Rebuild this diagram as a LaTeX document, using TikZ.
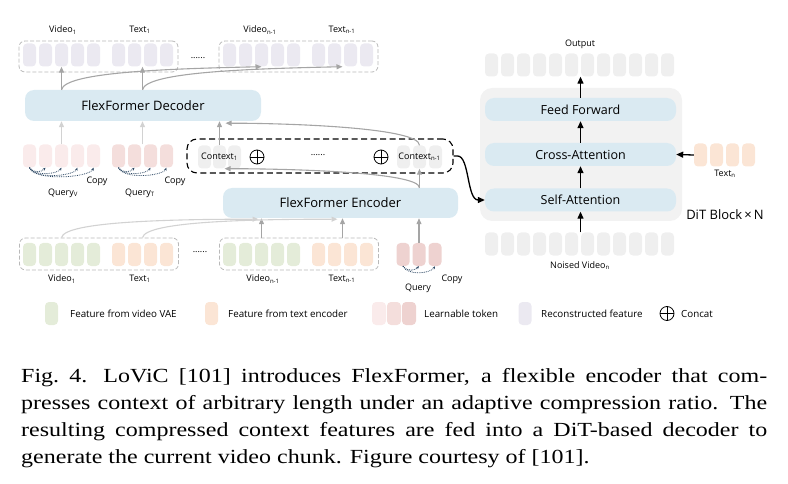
\documentclass[tikz,border=0pt]{standalone}
\usepackage{fontspec}
\setmainfont{Open Sans}
\newfontfamily\capfont[FakeStretch=1.2]{Liberation Serif}
\usetikzlibrary{arrows.meta,positioning,calc}

\definecolor{vaegreen}{RGB}{228,236,217}
\definecolor{txtpeach}{RGB}{251,229,213}
\definecolor{tokA}{RGB}{250,235,235}
\definecolor{tokB}{RGB}{244,222,220}
\definecolor{tokC}{RGB}{238,210,208}
\definecolor{recon}{RGB}{235,233,241}
\definecolor{blockblue}{RGB}{218,234,242}
\definecolor{cellgray}{RGB}{239,239,239}
\definecolor{ditgray}{RGB}{242,242,242}
\definecolor{boxgray}{RGB}{185,185,185}
\definecolor{arrgray}{RGB}{165,165,165}
\definecolor{arrlight}{RGB}{210,210,210}
\definecolor{copyblue}{RGB}{45,72,100}

\begin{document}
\begin{tikzpicture}[x=1pt, y=-1pt, font=\fontsize{9}{10}\selectfont,
    cell/.style={rectangle, rounded corners=4, minimum width=13, minimum height=23, inner sep=0},
    group/.style={draw=boxgray, dash pattern=on 4pt off 2pt, line width=0.8, rounded corners=6, minimum width=159, minimum height=31, inner sep=0},
    block/.style={fill=blockblue, rounded corners=9, inner sep=0},
    lbl/.style={inner sep=0},
    keylbl/.style={inner sep=0, anchor=west, font=\fontsize{9.8}{11}\selectfont},
    garrow/.style={draw=arrgray, line width=1.1, -{Triangle[width=5pt,length=6pt]}},
    larrow/.style={draw=arrlight, line width=1.1, -{Triangle[width=5pt,length=6pt]}},
    barrow/.style={draw=black, line width=1.3, -{Triangle[width=6pt,length=7pt]}},
    copyarrow/.style={draw=copyblue, densely dotted, line width=0.8, -{Stealth[length=3pt,width=2.5pt]}},
    concat/.style={circle, draw, line width=0.8, minimum size=14, inner sep=0,
      path picture={\draw[line width=0.8] (path picture bounding box.north) -- (path picture bounding box.south)
        (path picture bounding box.west) -- (path picture bounding box.east);}}]
  \useasboundingbox (0,0) rectangle (788,484);

  % reconstructed features (top)
  \node[group] (topA) at (98.5,56.5) {};
  \node[group] (topB) at (298.5,56.5) {};
  \foreach \i in {1,...,5} {
    \node[cell, fill=recon] (tva\i) at ({13.5+16*\i},55) {};
    \node[cell, fill=recon] (tvb\i) at ({213.5+16*\i},55) {};
  }
  \foreach \i in {1,...,4} {
    \node[cell, fill=recon] (tta\i) at ({102.5+16*\i},55) {};
    \node[cell, fill=recon] (ttb\i) at ({302.5+16*\i},55) {};
  }
  \node[lbl] (lva) at (63,30) {Video\textsubscript{1}};
  \node[lbl] (lta) at (140,30) {Text\textsubscript{1}};
  \node[lbl] (lvb) at (260,30) {Video\textsubscript{n-1}};
  \node[lbl] (ltb) at (342,30) {Text\textsubscript{n-1}};
  \node[lbl] (dotsT) at (198,58) {......};

  % decoder and queries
  \node[block, minimum width=236, minimum height=31, font=\fontsize{13}{15}\selectfont] (dec) at (143,105.5) {FlexFormer Decoder};
  \foreach \i in {1,...,5}
    \node[cell, fill=tokA] (qv\i) at ({13.5+16*\i},156) {};
  \foreach \i in {1,...,4}
    \node[cell, fill=tokB] (qt\i) at ({102.5+16*\i},156) {};
  \foreach \k/\d in {2/6,3/9,4/12,5/14}
    \draw[copyarrow] (qv1.south) .. controls +(5,\d) and +(-4,0.7*\d) .. (qv\k.south);
  \foreach \k/\d in {2/6,3/9,4/12}
    \draw[copyarrow] (qt1.south) .. controls +(5,\d) and +(-4,0.7*\d) .. (qt\k.south);
  \node[lbl] (lqv) at (63,193) {Query\textsubscript{V}};
  \node[lbl] (lqt) at (140,193) {Query\textsubscript{T}};
  \node[lbl] (cpv) at (97,181) {Copy};
  \node[lbl] (cpt) at (175,181) {Copy};

  % compressed context
  \node[draw, dash pattern=on 6pt off 3.5pt, line width=1.1, rounded corners=10, minimum width=266, minimum height=34, inner sep=0] (ctx) at (320,156) {};
  \foreach \i in {1,2,3} {
    \node[cell, fill=cellgray] (cc\i) at ({189.5+15*\i},157) {};
    \node[cell, fill=cellgray] (cn\i) at ({387.5+16*\i},157) {};
  }
  \node[lbl] (ctxa) at (cc2) {Context\textsubscript{1}};
  \node[lbl] (ctxb) at (cn2) {Context\textsubscript{n-1}};
  \node[concat] (pa) at (257,157) {};
  \node[concat] (pb) at (381,157) {};
  \node[lbl] (dotsC) at (318,155) {......};

  % encoder and inputs
  \node[block, minimum width=235, minimum height=30, font=\fontsize{13}{15}\selectfont] (enc) at (340.5,203) {FlexFormer Encoder};
  \node[group, minimum height=32] (botA) at (99,254) {};
  \node[group, minimum height=32] (botB) at (299,254) {};
  \foreach \i in {1,...,5} {
    \node[cell, fill=vaegreen] (bva\i) at ({13.5+16*\i},254.5) {};
    \node[cell, fill=vaegreen] (bvb\i) at ({213.5+16*\i},254.5) {};
  }
  \foreach \i in {1,...,4} {
    \node[cell, fill=txtpeach] (bta\i) at ({102.5+16*\i},254.5) {};
    \node[cell, fill=txtpeach] (btb\i) at ({302.5+16*\i},254.5) {};
  }
  \foreach \i in {1,2,3}
    \node[cell, fill=tokC] (qr\i) at ({387+16*\i},254.5) {};
  \foreach \k/\d in {2/6,3/10}
    \draw[copyarrow] (qr1.south) .. controls +(5,\d) and +(-4,0.7*\d) .. (qr\k.south);
  \node[lbl] (dotsB) at (200,252) {......};
  \node[lbl] (lbva) at (62,279) {Video\textsubscript{1}};
  \node[lbl] (lbta) at (140,279) {Text\textsubscript{1}};
  \node[lbl] (lbvb) at (263,279) {Video\textsubscript{n-1}};
  \node[lbl] (lbtb) at (342,279) {Text\textsubscript{n-1}};
  \node[lbl] (lqr) at (418,288) {Query};
  \node[lbl] (cpr) at (452,279) {Copy};

  % gray connectors
  \coordinate (tmidA) at ($(tta2.south)!.5!(tta3.south)$);
  \coordinate (tmidB) at ($(ttb2.south)!.5!(ttb3.south)$);
  \coordinate (qmid) at ($(qt2.north)!.5!(qt3.north)$);
  \coordinate (bmidA) at ($(bta2.north)!.5!(bta3.north)$);
  \coordinate (bmidB) at ($(btb2.north)!.5!(btb3.north)$);
  \draw[garrow] (tva3 |- dec.north) -- (tva3.south);
  \draw[garrow] (tmidA |- dec.north) -- (tmidA);
  \draw[garrow] (tva3 |- dec.north) .. controls +(3,-18) and +(-90,2) .. (tvb3.south);
  \draw[garrow] (tmidA |- dec.north) .. controls +(3,-18) and +(-90,2) .. (tmidB);
  \draw[larrow] (qv3.north) -- (qv3 |- dec.south);
  \draw[larrow] (qmid) -- (qmid |- dec.south);
  \draw[garrow] (cc2.north) -- (cc2 |- dec.south);
  \draw[garrow] (cn2.north) .. controls +(0,-18) and +(60,0) .. ($(cc2 |- dec.south)+(6,2)$);
  \draw[garrow] (cn2 |- enc.north) -- (cn2.south);
  \draw[garrow] (cn2 |- enc.north) .. controls +(0,-16) and +(60,0) .. ($(cc2.south)+(5,0)$);
  \draw[garrow] (bvb3 |- botB.north) -- (bvb3 |- enc.south);
  \draw[garrow] (bmidB |- botB.north) -- (bmidB |- enc.south);
  \draw[larrow] (bva3 |- botA.north) .. controls +(3,-16) and +(-90,0) .. ($(bvb3 |- enc.south)+(-3,1)$);
  \draw[larrow] (bmidA |- botA.north) .. controls +(3,-16) and +(-90,0) .. ($(bmidB |- enc.south)+(-5,1)$);
  \draw[garrow] (qr2.north) -- (qr2 |- enc.south);

  % DiT decoder
  \node[fill=ditgray, rounded corners=12, minimum width=202, minimum height=133, inner sep=0] (dit) at (581,154.5) {};
  \node[block, minimum width=191, minimum height=23, font=\fontsize{12.5}{14}\selectfont] (ff) at (580.5,109.5) {Feed Forward};
  \node[block, minimum width=191, minimum height=23, font=\fontsize{12.5}{14}\selectfont] (ca) at (580.5,154.5) {Cross-Attention};
  \node[block, minimum width=191, minimum height=23, font=\fontsize{12.5}{14}\selectfont] (sa) at (580.5,200) {Self-Attention};
  \foreach \i in {1,...,12} {
    \node[cell, fill=cellgray] (out\i) at ({475.5+16*\i},65) {};
    \node[cell, fill=cellgray] (nz\i) at ({475.5+16*\i},244) {};
  }
  \foreach \i in {1,...,4}
    \node[cell, fill=txtpeach] (tn\i) at ({684.5+16*\i},155) {};
  \node[lbl] (lout) at (580,44) {Output};
  \node[lbl] (lnz) at (580,266) {Noised Video\textsubscript{n}};
  \node[lbl] (ltn) at (725,174) {Text\textsubscript{n}};
  \node[lbl, font=\fontsize{13}{15}\selectfont] (ditn) at (725,215) {DiT Block\,×\,N};
  \draw[barrow] (ff.north) -- (ff.north |- out6.south);
  \draw[barrow] (ca.north) -- (ff.south);
  \draw[barrow] (sa.north) -- (ca.south);
  \draw[barrow] (sa.south |- nz6.north) -- (sa.south);
  \draw[barrow] (tn1.west) -- (ca.east);
  \draw[barrow] (ctx.east) -- ++(4,0) .. controls +(12,0) and +(-18,0) .. (sa.west);

  % legend
  \node[cell, fill=vaegreen] (kva) at (51.5,313.5) {};
  \node[keylbl] (kvat) at (70,313.5) {Feature from video VAE};
  \node[cell, fill=txtpeach] (kte) at (211.5,313.5) {};
  \node[keylbl] (ktet) at (228,313.5) {Feature from text encoder};
  \node[cell, fill=tokA, minimum width=14] (kl1) at (379,313.5) {};
  \node[cell, fill=tokB, minimum width=14] (kl2) at (394,313.5) {};
  \node[cell, fill=tokC, minimum width=14] (kl3) at (409,313.5) {};
  \node[keylbl] (klt) at (424,313.5) {Learnable token};
  \node[cell, fill=recon] (krc) at (525,313.5) {};
  \node[keylbl] (krct) at (541,313.5) {Reconstructed feature};
  \node[concat] (kcc) at (667,313.5) {};
  \node[keylbl] (kcct) at (681,313.5) {Concat};

  % caption
  \node[anchor=north west, inner sep=0, text width=746pt, align=justify,
    font=\capfont\fontsize{20}{27}\selectfont] (cap) at (21,368)
    {Fig.~4.\hspace{0.8em}LoViC [101] introduces FlexFormer, a flexible encoder that com-\linebreak
    presses context of arbitrary length under an adaptive compression ratio. The\linebreak
    resulting compressed context features are fed into a DiT-based decoder to\linebreak
    generate the current video chunk. Figure courtesy of [101].};
\end{tikzpicture}
\end{document}
